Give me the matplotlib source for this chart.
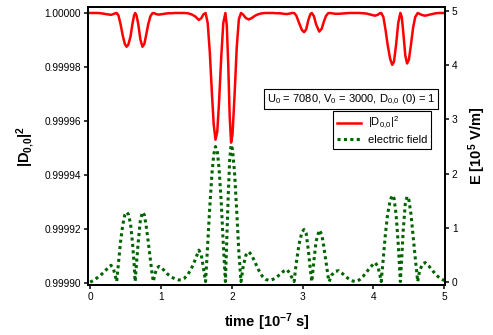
import matplotlib
matplotlib.use("Agg")
import matplotlib.pyplot as plt

plt.rcParams['font.family'] = ['Liberation Sans', 'DejaVu Sans']
plt.rcParams['mathtext.default'] = 'regular'

# time in units of 1e-7 s
time = [0.00, 0.05, 0.10, 0.15, 0.20, 0.25, 0.295, 0.33, 0.355, 0.375,
        0.40, 0.43, 0.46, 0.49, 0.515, 0.54, 0.57, 0.60, 0.62, 0.636,
        0.655, 0.68, 0.71, 0.739, 0.765, 0.79, 0.82, 0.85, 0.875, 0.893,
        0.915, 0.945, 0.973, 1.00, 1.05, 1.10, 1.15, 1.20, 1.25, 1.28,
        1.33, 1.38, 1.43, 1.48, 1.535, 1.57, 1.60, 1.63, 1.66, 1.69,
        1.72, 1.745, 1.77, 1.795, 1.82, 1.85, 1.88, 1.91, 1.93, 1.95,
        1.97, 1.99, 2.01, 2.04, 2.07, 2.10, 2.13, 2.16, 2.20, 2.24,
        2.28, 2.33, 2.38, 2.43, 2.48, 2.53, 2.58, 2.63, 2.68, 2.73,
        2.78, 2.82, 2.85, 2.88, 2.91, 2.95, 2.99, 3.02, 3.05, 3.08,
        3.11, 3.13, 3.16, 3.19, 3.235, 3.27, 3.30, 3.33, 3.36, 3.375,
        3.41, 3.46, 3.51, 3.56, 3.61, 3.66, 3.71, 3.75, 3.80, 3.85,
        3.90, 3.96, 4.02, 4.06, 4.09, 4.11, 4.14, 4.17, 4.20, 4.235,
        4.265, 4.29, 4.32, 4.35, 4.38, 4.40, 4.42, 4.45, 4.475, 4.50,
        4.53, 4.56, 4.59, 4.625, 4.65, 4.69, 4.73, 4.78, 4.83, 4.88,
        4.93, 4.97, 5.00]

# |D_0,0|^2
overlap = [1.0000000, 1.0000000, 1.0000000, 0.9999999, 0.9999997, 0.9999995, 0.9999993, 0.9999996, 0.9999999, 1.0000000,
           0.9999991, 0.9999958, 0.9999917, 0.9999885, 0.9999875, 0.9999883, 0.9999913, 0.9999963, 0.9999991, 1.0000000,
           0.9999991, 0.9999958, 0.9999901, 0.9999875, 0.9999885, 0.9999917, 0.9999958, 0.9999987, 0.9999998, 1.0000000,
           0.9999998, 0.9999995, 0.9999994, 0.9999995, 0.9999997, 0.9999999, 0.9999999, 1.0000000, 1.0000000, 1.0000000,
           1.0000000, 0.9999999, 0.9999995, 0.9999988, 0.9999974, 0.9999981, 0.9999995, 1.0000000, 0.9999963, 0.9999853,
           0.9999700, 0.9999586, 0.9999531, 0.9999561, 0.9999669, 0.9999831, 0.9999963, 1.0000000, 0.9999952, 0.9999808,
           0.9999620, 0.9999520, 0.9999550, 0.9999700, 0.9999873, 0.9999977, 1.0000000, 0.9999994, 0.9999981, 0.9999976,
           0.9999981, 0.9999990, 0.9999996, 0.9999999, 1.0000000, 1.0000000, 1.0000000, 0.9999999, 0.9999999, 0.9999997,
           0.9999996, 0.9999998, 1.0000000, 1.0000000, 0.9999991, 0.9999963, 0.9999937, 0.9999929, 0.9999939, 0.9999973,
           0.9999996, 1.0000000, 0.9999988, 0.9999958, 0.9999931, 0.9999942, 0.9999968, 0.9999989, 0.9999999, 1.0000000,
           0.9999999, 0.9999997, 0.9999997, 0.9999998, 0.9999999, 1.0000000, 1.0000000, 1.0000000, 1.0000000, 0.9999999,
           0.9999998, 0.9999994, 0.9999990, 0.9999993, 0.9999999, 1.0000000, 0.9999985, 0.9999939, 0.9999883, 0.9999831,
           0.9999808, 0.9999820, 0.9999883, 0.9999963, 1.0000000, 0.9999985, 0.9999932, 0.9999842, 0.9999813, 0.9999827,
           0.9999883, 0.9999946, 0.9999985, 1.0000000, 0.9999997, 0.9999992, 0.9999990, 0.9999993, 0.9999996, 0.9999999,
           1.0000000, 1.0000000, 1.0000000]

# electric field in 1e5 V/m
efield = [0.00, 0.03, 0.08, 0.13, 0.19, 0.26, 0.31, 0.24, 0.12, 0.01,
          0.35, 0.75, 1.05, 1.24, 1.29, 1.25, 1.08, 0.70, 0.35, 0.01,
          0.35, 0.75, 1.15, 1.29, 1.24, 1.05, 0.75, 0.42, 0.15, 0.01,
          0.15, 0.26, 0.29, 0.27, 0.21, 0.14, 0.09, 0.06, 0.04, 0.04,
          0.07, 0.14, 0.25, 0.40, 0.59, 0.50, 0.25, 0.01, 0.70, 1.40,
          2.00, 2.35, 2.50, 2.42, 2.10, 1.50, 0.70, 0.01, 0.80, 1.60,
          2.25, 2.53, 2.45, 2.00, 1.30, 0.55, 0.01, 0.28, 0.50, 0.56,
          0.50, 0.36, 0.22, 0.11, 0.05, 0.03, 0.05, 0.09, 0.14, 0.20,
          0.23, 0.16, 0.08, 0.01, 0.35, 0.70, 0.92, 0.97, 0.90, 0.60,
          0.22, 0.01, 0.40, 0.75, 0.96, 0.88, 0.65, 0.38, 0.10, 0.01,
          0.13, 0.20, 0.21, 0.16, 0.10, 0.05, 0.02, 0.01, 0.04, 0.10,
          0.18, 0.28, 0.36, 0.30, 0.14, 0.01, 0.45, 0.90, 1.25, 1.50,
          1.60, 1.55, 1.25, 0.70, 0.01, 0.45, 0.95, 1.45, 1.58, 1.52,
          1.25, 0.85, 0.45, 0.01, 0.20, 0.33, 0.36, 0.30, 0.22, 0.14,
          0.08, 0.05, 0.03]

left_ticks = [0.99990, 0.99992, 0.99994, 0.99996, 0.99998, 1.00000]
right_ticks = [0, 1, 2, 3, 4, 5]
x_ticks = [0, 1, 2, 3, 4, 5]

fig = plt.figure(figsize=(4.93, 3.35), dpi=100)
ax = fig.add_axes([0.1785, 0.149, 0.7241, 0.830])
ax2 = ax.twinx()

red_line, = ax.plot(time, overlap, color='#ff0000', lw=1.8)
green_line, = ax2.plot(time, efield, color='#006400', lw=2.2, linestyle=(0, (1, 1.1)))

ax.set_xlim(-0.03, 5.01)
ax.set_ylim(0.99989926, 1.0000022)
ax2.set_ylim(-0.055, 5.074)

ax.set_xticks(x_ticks)
ax.set_yticks(left_ticks)
ax.set_yticklabels(['%.5f' % v for v in left_ticks])
ax2.set_yticks(right_ticks)

for a in (ax, ax2):
    for s in a.spines.values():
        s.set_linewidth(1.3)
    a.tick_params(direction='out', length=3, width=1.1, labelsize=7.3, pad=2)

ax.set_xlabel(r'time [10$^{-7}$ s]', fontsize=10.5, fontweight='bold', labelpad=7)
ax.set_ylabel(r'|D$_{0{,}0}$|$^2$', fontsize=10.5, fontweight='bold', labelpad=6)
ax2.set_ylabel(r'E [10$^5$ V/m]', fontsize=10.5, fontweight='bold', labelpad=6)

ax.text(0.973, 0.668, r'U$_0$ = 7080, V$_0$ = 3000, D$_{0{,}0}$ (0) = 1',
        transform=ax.transAxes, ha='right', va='center', fontsize=8,
        bbox=dict(boxstyle='square,pad=0.25', facecolor='white', edgecolor='black', lw=0.8))

leg = ax.legend([red_line, green_line], [r'|D$_{0{,}0}$|$^2$', 'electric field'],
                loc='upper right', bbox_to_anchor=(0.977, 0.645), fontsize=8,
                fancybox=False, framealpha=1, edgecolor='black',
                handlelength=2.2, borderpad=0.35, labelspacing=0.3, handletextpad=0.6)
leg.get_frame().set_linewidth(0.8)

fig.savefig('out.png', dpi=100)
